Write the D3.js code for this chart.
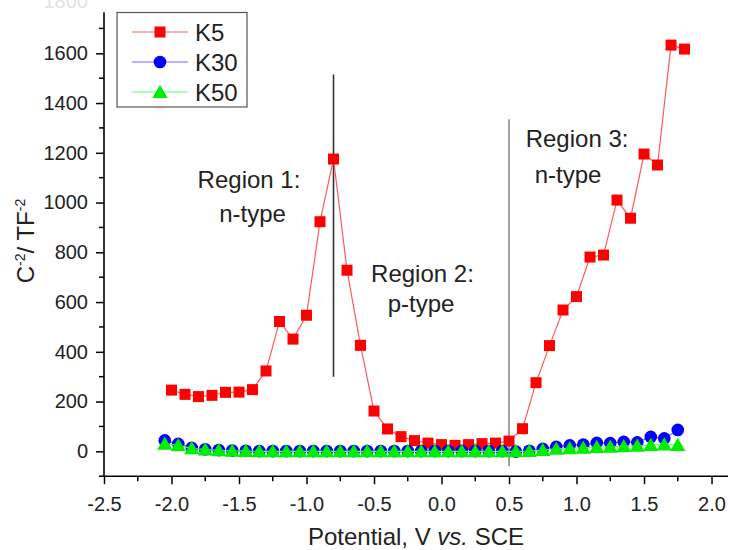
<!DOCTYPE html>
<html><head><meta charset="utf-8">
<script src="https://cdn.jsdelivr.net/npm/d3@7"></script>
<style>body{margin:0;background:#fff}text{font-family:"Liberation Sans",Arial,sans-serif}</style>
</head><body><svg id="c" width="730" height="550"></svg>
<script>
const k5X = [-2.0,-1.9,-1.8,-1.7,-1.6,-1.5,-1.4,-1.3,-1.2,-1.1,-1.0,-0.9,-0.8,-0.7,-0.6,-0.5,-0.4,-0.3,-0.2,-0.1,0.0,0.1,0.2,0.3,0.4,0.5,0.6,0.7,0.8,0.9,1.0,1.1,1.2,1.3,1.4,1.5,1.6,1.7,1.8];
const k5Y = [246,229,220,225,237,238,248,323,522,451,547,923,1175,728,426,162,90,59,43,33,27,24,27,31,33,41,91,276,425,568,622,781,789,1010,937,1195,1151,1633,1617];
const kX = [-2.05,-1.95,-1.85,-1.75,-1.65,-1.55,-1.45,-1.35,-1.25,-1.15,-1.05,-0.95,-0.85,-0.75,-0.65,-0.55,-0.45,-0.35,-0.25,-0.15,-0.05,0.05,0.15,0.25,0.35,0.45,0.55,0.65,0.75,0.85,0.95,1.05,1.15,1.25,1.35,1.45,1.55,1.65,1.75];
const k30Y = [44,30,14,8,5,3,2,1,1,1,1,1,1,1,1,1,1,1,1,1,1,1,1,1,1,1,-1,2,10,18,24,27,34,33,38,36,58,52,86];
const k50Y = [30,24,12,7,4,2,1,0,0,0,0,0,0,0,0,0,0,0,0,0,0,0,0,0,0,0,0,1,5,10,12,14,17,18,20,22,25,27,25];
const yTicks = [0,200,400,600,800,1000,1200,1400,1600];
const xTicks = [-2.5,-2.0,-1.5,-1.0,-0.5,0.0,0.5,1.0,1.5,2.0];
const seriesNames = ["K5","K30","K50"];
const seriesColors = ["#ff0000","#0000ff","#00ee00"];
const lineColors = ["#ff5a5a","#6a6aff","#5aff5a"];
const regionLines = [{x:-0.8,y0:300,y1:1515,w:1.6,c:"#333"},{x:0.5,y0:-60,y1:1335,w:1.1,c:"#555"}];
const regionText = [
  {x:-1.426,y:1058,t:"Region 1:"},{x:-1.40,y:923,t:"n-type"},
  {x:-0.141,y:682,t:"Region 2:"},{x:-0.152,y:561,t:"p-type"},
  {x:1.004,y:1224,t:"Region 3:"},{x:0.937,y:1079,t:"n-type"}
];

const svg = d3.select("#c");
const x = d3.scaleLinear().domain([-2.5,2.122]).range([104,728]);
const y = d3.scaleLinear().domain([-100,1765]).range([476.2,12.25]);

// axes
const gx = svg.append("g").attr("transform",`translate(0,${y(-100)})`);
gx.call(d3.axisBottom(x).tickValues(xTicks).tickSize(8).tickPadding(13).tickFormat(d=>d.toFixed(1)));
gx.append("g").call(g=>{
  const minors = d3.range(-2.25,2.1,0.5);
  g.selectAll("line").data(minors).join("line").attr("x1",d=>x(d)).attr("x2",d=>x(d)).attr("y1",0).attr("y2",5).attr("stroke","#000").attr("stroke-width",1.5);
});
const gy = svg.append("g").attr("transform",`translate(${x(-2.5)},0)`);
gy.call(d3.axisLeft(y).tickValues(yTicks).tickSize(8).tickPadding(8).tickFormat(d=>String(d)));
gy.append("g").call(g=>{
  const minors = [-100,100,300,500,700,900,1100,1300,1500,1700];
  g.selectAll("line").data(minors).join("line").attr("x1",0).attr("x2",-5).attr("y1",d=>y(d)).attr("y2",d=>y(d)).attr("stroke","#000").attr("stroke-width",1.5);
});
[gx,gy].forEach(g=>{
  g.select(".domain").attr("stroke","#000").attr("stroke-width",1.6);
  g.selectAll(".tick line").attr("stroke","#000").attr("stroke-width",1.5);
  g.selectAll(".tick text").attr("font-size",20).attr("fill","#222").style("font-family","'Liberation Sans',Arial,sans-serif");
});
gx.select(".domain").attr("d",`M${x(-2.5)},0H${x(2.122)}`);
gy.select(".domain").attr("d",`M0,${y(-100)}V${y(1765)}`);
// faint clipped 1800 label (cut at top edge, as in the reference)
svg.append("text").attr("x",88).attr("y",y(1800)).attr("dy","0.2em").attr("text-anchor","end").attr("font-size",20).attr("fill","#e2e2e2").text("1800");

// axis titles
svg.append("text").attr("x",416).attr("y",545).attr("text-anchor","middle").attr("font-size",24).attr("fill","#222")
  .call(t=>{t.append("tspan").text("Potential, V ");t.append("tspan").attr("font-style","italic").text("vs.");t.append("tspan").text(" SCE");});
svg.append("text").attr("transform","translate(34,241) rotate(-90)").attr("text-anchor","middle").attr("font-size",24).attr("fill","#222")
  .call(t=>{t.append("tspan").text("C");t.append("tspan").attr("font-size",14).attr("dy",-9).text("-2");t.append("tspan").attr("dy",9).text("/ TF");t.append("tspan").attr("font-size",14).attr("dy",-9).text("-2");});

// region lines
svg.selectAll(".rl").data(regionLines).join("line").attr("x1",d=>x(d.x)).attr("x2",d=>x(d.x)).attr("y1",d=>y(d.y0)).attr("y2",d=>y(d.y1)).attr("stroke",d=>d.c).attr("stroke-width",d=>d.w);

// series
const series = [
  {name:"K5",xs:k5X,ys:k5Y,shape:d3.symbolSquare,size:121},
  {name:"K30",xs:kX,ys:k30Y,shape:d3.symbolCircle,size:125},
  {name:"K50",xs:kX,ys:k50Y,shape:d3.symbolTriangle,size:100}
];
const line = d3.line().x(d=>x(d[0])).y(d=>y(d[1]));
series.forEach((s,i)=>{
  const pts = s.xs.map((v,j)=>[v,s.ys[j]]);
  svg.append("path").attr("d",line(pts)).attr("fill","none").attr("stroke",lineColors[i]).attr("stroke-width",1.2);
  svg.append("g").selectAll("path").data(pts).join("path")
    .attr("transform",d=>`translate(${x(d[0])},${y(d[1])+(i===2?1.5:0)})`)
    .attr("d",d3.symbol().type(s.shape).size(s.size)).attr("fill",seriesColors[i]);
});

// region texts
svg.selectAll(".rt").data(regionText).join("text").attr("x",d=>x(d.x)).attr("y",d=>y(d.y)).attr("text-anchor","middle").attr("font-size",24).attr("fill","#222").text(d=>d.t);

// legend
const lg = svg.append("g");
lg.append("rect").attr("x",117).attr("y",12.5).attr("width",130).attr("height",94.5).attr("fill","#fff").attr("stroke","#555").attr("stroke-width",1.2);
series.forEach((s,i)=>{
  const ly = 32+i*30;
  lg.append("line").attr("x1",132).attr("x2",188).attr("y1",ly).attr("y2",ly).attr("stroke",lineColors[i]).attr("stroke-width",1.2);
  lg.append("path").attr("transform",`translate(160,${ly+(i===2?1.5:0)})`).attr("d",d3.symbol().type(s.shape).size(s.size)).attr("fill",seriesColors[i]);
  lg.append("text").attr("x",195).attr("y",ly).attr("dy","0.36em").attr("font-size",24).attr("fill","#222").text(seriesNames[i]);
});
</script></body></html>
